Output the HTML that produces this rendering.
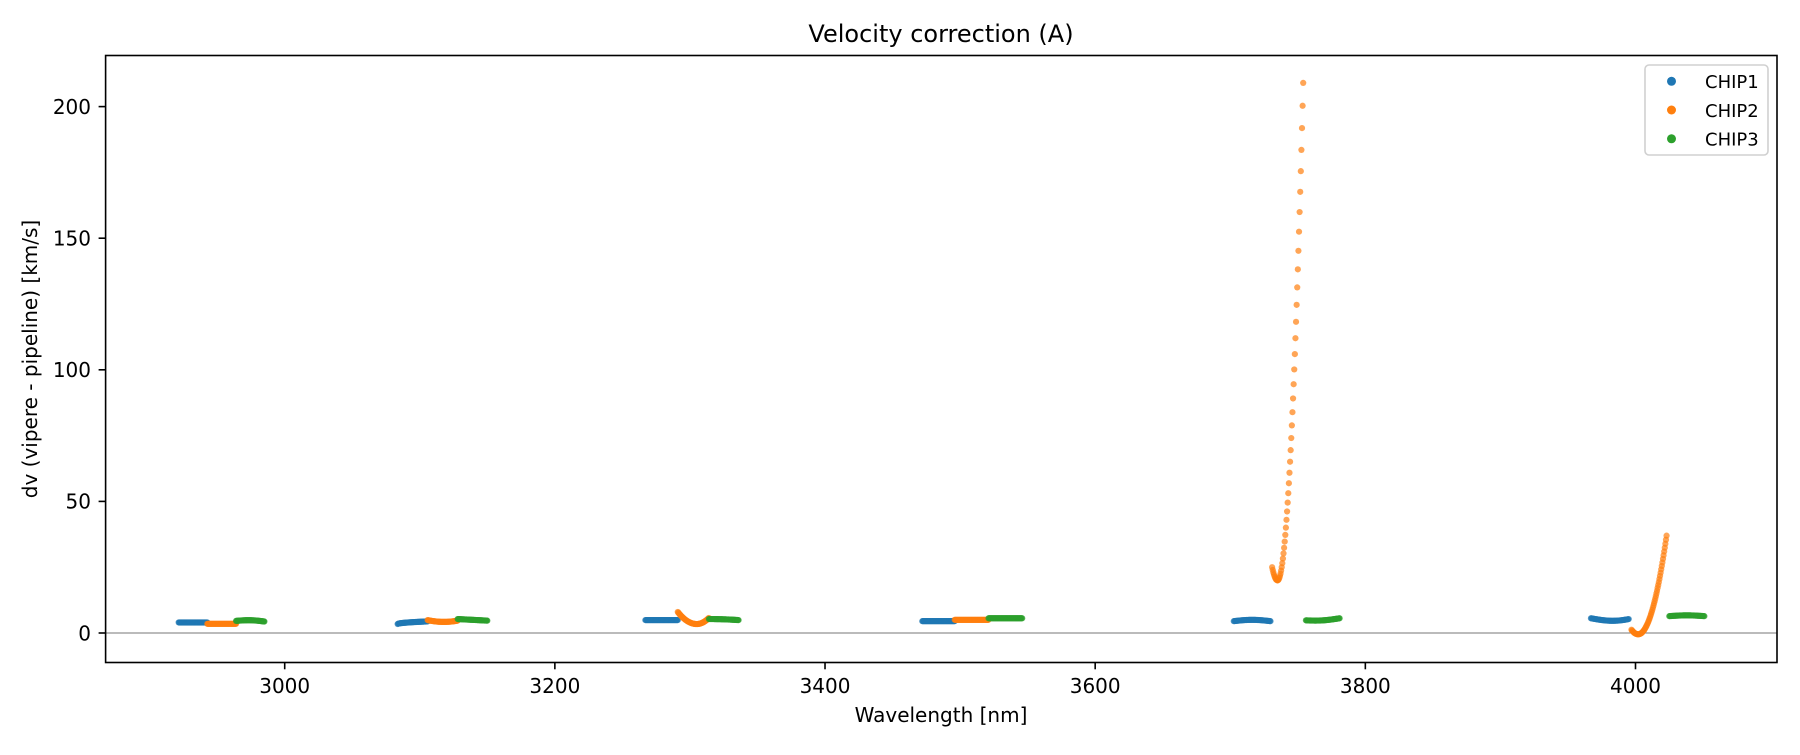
<!DOCTYPE html>
<html><head><meta charset="utf-8">
<style>
html,body{margin:0;padding:0;background:#fff;}
svg text{font-family:"DejaVu Sans","Liberation Sans",sans-serif;fill:#000;}
</style></head>
<body>
<svg id="s" width="1800" height="750" viewBox="0 0 1800 750" xmlns="http://www.w3.org/2000/svg">
<rect width="1800" height="750" fill="#fff"/>
<text x="941" y="42" font-size="24" text-anchor="middle">Velocity correction (A)</text>
<line x1="105.6" y1="633" x2="1777" y2="633" stroke="#777" stroke-width="1"/>
<g id="pts"></g>
<rect x="105.6" y="55.5" width="1671.4" height="607" fill="none" stroke="#000" stroke-width="1.6"/>
<g id="ticks" stroke="#000" stroke-width="1.6"></g>
<g id="lbl" font-size="20"></g>
<text x="941" y="722" font-size="20" text-anchor="middle">Wavelength [nm]</text>
<text transform="translate(37,359) rotate(-90)" font-size="20" text-anchor="middle">dv (vipere - pipeline) [km/s]</text>
<rect x="1645" y="65" width="123" height="90" rx="4" fill="#fff" fill-opacity="0.8" stroke="#d0d0d0" stroke-width="1.6"/>
<circle cx="1671.5" cy="81.3" r="4.5" fill="#1f77b4"/>
<circle cx="1671.5" cy="110" r="4.5" fill="#ff7f0e"/>
<circle cx="1671.5" cy="138.8" r="4.5" fill="#2ca02c"/>
<text x="1705" y="88" font-size="18">CHIP1</text>
<text x="1705" y="117" font-size="18">CHIP2</text>
<text x="1705" y="145.5" font-size="18">CHIP3</text>
</svg>
<script>
var NS="http://www.w3.org/2000/svg";
function X(nm){return 284.7+(nm-3000)*1.3508;}
function Y(v){return 633-v*2.632;}
var g=document.getElementById('pts');
var C={b:"#1f77b4",o:"#ff7f0e",g:"#2ca02c"};
function dot(nm,v,c){var e=document.createElementNS(NS,'circle');e.setAttribute('cx',X(nm).toFixed(2));e.setAttribute('cy',Y(v).toFixed(2));e.setAttribute('r','3.1');e.setAttribute('fill',c);e.setAttribute('fill-opacity','0.7');g.appendChild(e);}
function seg(a,b,c,f,n){n=n||60;for(var i=0;i<n;i++){var t=i/(n-1);dot(a+(b-a)*t,f(t),c);}}
seg(2921.5,2942.7,C.b,function(t){return 4;});
seg(2942.7,2964,C.o,function(t){return 3.5;});
seg(2964,2985,C.g,function(t){return 4.6+0.4*Math.sin(t*3)-0.3*t;});
seg(3083.6,3105.8,C.b,function(t){return 3.4+1.0*Math.sqrt(t);});
seg(3105.8,3128,C.o,function(t){return 4.9-2.5*t+2.3*t*t;});
seg(3128,3150,C.g,function(t){return 5.3-0.6*t;});
seg(3267,3291,C.b,function(t){return 4.9;});
seg(3291,3314,C.o,function(t){var x=t*23;return x<14?3.4+4.6*Math.pow((14-x)/14,2):3.4+2.3*Math.pow((x-14)/9,2);});
seg(3314,3336,C.g,function(t){return 5.3-0.4*t*t;});
seg(3472,3496,C.b,function(t){return 4.5;});
seg(3496,3521,C.o,function(t){return 5;});
seg(3521,3546,C.g,function(t){return 5.6;});
seg(3702.6,3729.8,C.b,function(t){return 4.5+0.5*Math.sin(t*Math.PI);});
seg(3756,3781,C.g,function(t){return 4.8-0.4*Math.sin(t*Math.PI)+0.8*t;});
seg(3731,3735,C.o,function(t){return 20+5*Math.pow(1-t,2);},10);
seg(3735,3754,C.o,function(t){return 20+189*t*t;},44);
seg(3967,3995,C.b,function(t){return 5.6-1.2*Math.sin(t*Math.PI*0.8)+0.4*t;});
seg(4025,4051,C.g,function(t){return 6.4+0.3*Math.sin(t*Math.PI);});
seg(3997,4023,C.o,function(t){var x=3997+26*t;return x<4002?-0.5+0.07*Math.pow(x-4002,2):-0.5+0.085*Math.pow(x-4002,2);},60);
var tk=document.getElementById('ticks'),lb=document.getElementById('lbl');
function ln(x1,y1,x2,y2){var e=document.createElementNS(NS,'line');e.setAttribute('x1',x1);e.setAttribute('y1',y1);e.setAttribute('x2',x2);e.setAttribute('y2',y2);tk.appendChild(e);}
function tx(x,y,s,a){var e=document.createElementNS(NS,'text');e.setAttribute('x',x);e.setAttribute('y',y);e.setAttribute('text-anchor',a);e.textContent=s;lb.appendChild(e);}
[3000,3200,3400,3600,3800,4000].forEach(function(v){var x=X(v);ln(x,662.3,x,669.3);tx(x,693,String(v),'middle');});
[0,50,100,150,200].forEach(function(v){var y=Y(v);ln(98.6,y,105.6,y);tx(91,y+7.3,String(v),'end');});
</script>
</body></html>
